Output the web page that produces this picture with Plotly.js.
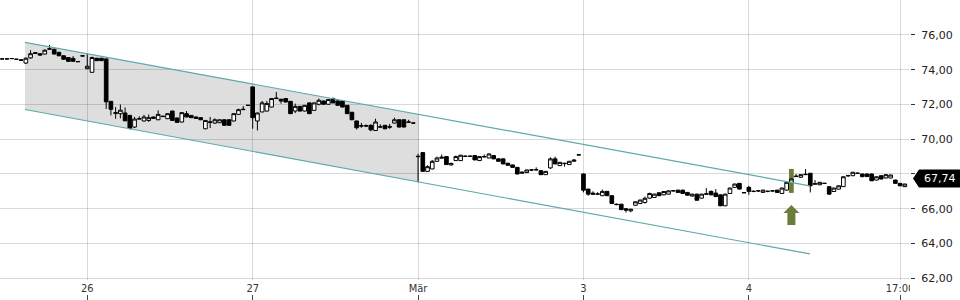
<!DOCTYPE html>
<html>
<head>
<meta charset="utf-8">
<script src="https://cdn.plot.ly/plotly-3.0.1.min.js"></script>
<style>html,body{margin:0;padding:0;background:#fff;}#chart{width:960px;height:300px;}</style>
</head>
<body>
<div id="chart"></div>
<script>
// 15-minute candles, index 0..191
const opens = [
74.62,74.62,74.64,74.60,74.57,74.38,74.68,74.98,74.92,74.90,75.18,75.18,75.00,74.80,74.70,74.65,74.47,74.80,
74.06,73.85,74.66,74.66,74.62,72.18,71.53,71.47,71.51,71.37,70.70,71.16,71.05,71.08,71.28,71.12,71.30,71.18,71.62,71.22,70.99,71.47,71.37,71.28,71.24,70.60,71.00,70.93,70.95,71.12,71.12,71.05,71.43,71.70,71.95,
73.01,71.05,71.57,71.62,71.85,72.34,72.30,72.34,72.18,71.62,71.89,71.62,72.09,71.66,72.01,72.20,72.01,72.34,72.20,72.20,71.95,71.55,71.05,70.78,70.78,70.80,70.50,70.72,70.80,70.72,70.93,71.12,71.12,70.97,70.93,
69.02,69.23,68.15,68.29,68.73,68.97,69.00,68.52,68.77,68.77,69.02,69.02,69.06,68.77,68.98,68.92,69.06,68.87,68.87,68.62,68.52,68.38,68.04,68.08,68.23,68.23,68.19,67.96,68.35,68.87,68.48,68.62,68.54,68.73,69.10,
68.00,67.13,66.90,66.84,66.75,67.00,66.75,66.26,66.26,66.00,65.88,66.20,66.30,66.36,66.61,66.65,66.92,66.80,66.84,67.04,67.07,67.07,66.94,66.73,66.84,66.61,66.86,67.00,66.90,66.80,66.17,66.88,67.23,67.46,66.93,
67.23,67.00,67.03,66.94,67.00,67.03,67.07,66.88,67.07,67.52,67.85,67.81,67.96,68.04,67.44,67.38,67.46,67.27,66.99,67.13,67.27,67.90,67.90,68.04,68.00,68.00,68.00,67.65,67.90,67.77,67.77,67.65,67.46,67.27
];
const highs = [
74.63,74.63,74.65,74.61,74.60,74.70,75.12,75.00,74.94,75.17,75.43,75.20,75.03,74.84,74.72,74.78,74.49,74.82,
74.94,74.75,74.68,74.68,74.64,72.20,71.85,72.00,71.83,71.40,71.28,71.32,71.40,71.42,71.30,71.66,71.34,71.50,71.64,71.24,71.55,71.62,71.39,71.30,71.26,71.10,71.28,71.20,71.14,71.14,71.14,71.49,71.76,71.91,71.97,
73.03,71.53,72.20,72.20,72.36,72.72,72.32,72.36,72.20,72.05,71.91,71.97,72.11,72.11,72.34,72.22,72.30,72.40,72.28,72.22,71.97,71.57,71.07,70.94,70.85,70.86,71.18,70.86,70.82,70.88,71.24,71.14,71.14,71.12,70.95,
69.16,69.25,68.50,68.81,69.00,69.12,69.02,68.66,69.06,69.10,69.06,69.06,69.08,69.02,69.12,69.20,69.08,68.89,68.89,68.64,68.54,68.40,68.14,68.25,68.28,68.38,68.21,68.17,68.96,69.00,68.69,68.64,68.75,68.85,69.12,
68.02,67.15,67.00,66.95,67.10,67.02,66.77,66.30,66.28,66.02,66.00,66.42,66.52,66.70,66.92,66.86,66.94,67.01,67.05,67.06,67.09,67.09,66.96,66.86,66.86,66.86,67.19,67.05,67.13,66.82,66.86,67.21,67.44,67.48,66.94,
67.32,67.05,67.08,67.10,67.05,67.08,67.09,67.21,67.54,67.73,68.00,67.98,68.29,68.06,67.65,67.54,67.48,67.29,67.21,67.34,67.86,67.95,68.12,68.08,68.02,68.02,68.02,67.86,67.92,67.98,67.96,67.67,67.48,67.44
];
const lows = [
74.61,74.61,74.63,74.59,74.52,74.33,74.63,74.93,74.80,74.88,75.16,74.88,74.78,74.58,74.46,74.46,74.45,74.78,
74.04,73.82,74.50,74.50,71.74,71.37,71.18,71.20,71.03,70.56,70.64,71.14,71.02,71.00,71.18,71.10,71.28,71.16,71.06,70.95,70.97,71.26,71.22,71.18,71.10,70.58,70.64,70.88,70.93,70.78,70.78,71.03,71.41,71.68,71.93,
70.60,70.50,71.55,71.60,71.83,72.32,72.05,72.12,71.45,71.50,71.60,71.60,71.45,71.64,71.95,71.99,71.99,72.07,71.93,71.83,71.45,71.10,70.56,70.66,70.70,70.46,70.48,70.68,70.58,70.60,70.91,70.68,70.68,70.95,70.91,
67.52,68.13,68.13,68.27,68.71,68.90,68.52,68.50,68.75,68.75,68.98,68.98,68.79,68.75,68.96,68.90,68.85,68.71,68.56,68.48,68.36,67.98,68.02,68.06,68.18,68.21,67.94,67.94,68.29,68.56,68.46,68.42,68.52,68.71,69.08,
66.94,66.75,66.82,66.82,66.73,66.73,66.28,66.20,65.92,65.78,65.80,66.18,66.28,66.30,66.58,66.63,66.73,66.78,66.82,67.00,66.92,66.86,66.76,66.71,66.47,66.59,66.82,66.78,66.68,66.15,66.15,66.86,67.21,67.11,66.91,
66.80,66.95,66.98,66.92,66.95,66.98,66.92,66.86,67.05,67.50,67.83,67.79,67.94,66.94,67.40,67.36,67.44,66.82,66.97,67.11,67.25,67.85,67.88,68.00,67.80,67.83,67.59,67.63,67.69,67.75,67.75,67.44,67.30,67.25
];
const closes = [
74.62,74.62,74.64,74.60,74.54,74.66,74.92,74.94,74.84,75.12,75.20,74.90,74.80,74.60,74.48,74.48,74.46,74.79,
74.20,74.70,74.52,74.52,72.15,71.72,71.49,71.67,71.06,70.62,71.16,71.18,71.28,71.24,71.20,71.43,71.32,71.47,71.08,70.97,71.53,71.28,71.24,71.20,71.12,71.08,70.97,71.12,71.12,70.80,70.80,71.47,71.70,71.72,71.95,
71.24,71.51,72.09,72.05,72.34,72.36,72.20,72.14,71.47,71.89,71.62,71.95,71.47,72.09,72.24,72.01,72.28,72.09,71.95,71.85,71.47,71.12,70.66,70.76,70.76,70.54,70.99,70.70,70.60,70.70,71.12,70.70,70.70,70.99,70.93,
69.00,68.15,68.42,68.73,68.92,68.92,68.54,68.60,69.00,69.08,69.02,69.02,68.81,69.00,69.00,69.15,68.87,68.73,68.58,68.50,68.38,68.00,68.10,68.23,68.23,68.25,67.96,68.15,68.87,68.58,68.67,68.60,68.73,68.80,69.10,
67.07,66.84,66.84,66.85,67.00,66.75,66.30,66.24,65.95,65.92,65.97,66.40,66.50,66.60,66.88,66.84,66.75,66.99,67.03,67.03,66.94,66.88,66.78,66.84,66.49,66.84,66.84,66.80,66.70,66.17,66.84,67.19,67.42,67.13,66.92,
67.00,67.00,67.03,67.07,67.00,67.03,66.94,67.19,67.52,67.71,67.87,67.96,67.98,67.32,67.42,67.52,67.46,66.84,67.19,67.32,67.84,67.90,68.10,68.04,67.85,67.85,67.61,67.84,67.71,67.96,67.94,67.46,67.32,67.42
];

// axis labels
const tickIdx = [18, 53, 88, 123, 158, 190];
const tickText = ['26', '27', 'Mär', '3', '4', '17:00'];
const yTicks = [62, 64, 66, 68, 70, 72, 74, 76];

// trend channel (index, price)
const chanIdx = [4.82, 170.9];
const chanUpper = [75.57, 67.32];
const chanLower = [71.71, 63.40];
const shadeEndIdx = 88.2;

// signal & last price
const signalIdx = 167;
const signalBar = [66.91, 68.29];
const signalArrowTip = 66.22;
const lastPrice = 67.74;

const xs = opens.map((_, i) => i);
const lerp = (arr, t) => arr[0] + (arr[1] - arr[0]) * (t - chanIdx[0]) / (chanIdx[1] - chanIdx[0]);

const xRange = [-0.47, 192.1];
const yRange = [61.9, 78.01];
const bottomFrac = 20 / 300;
const teal = '#5ea9aa';
const olive = '#6b7d3a';
const grid = 'rgba(0,0,0,0.15)';

const traces = [
  { type: 'scatter', mode: 'lines', x: chanIdx, y: chanUpper, line: { color: teal, width: 1.2 }, hoverinfo: 'skip', showlegend: false },
  { type: 'scatter', mode: 'lines', x: chanIdx, y: chanLower, line: { color: teal, width: 1.2 }, hoverinfo: 'skip', showlegend: false },
  {
    type: 'candlestick', x: xs, open: opens, high: highs, low: lows, close: closes,
    increasing: { line: { color: '#000', width: 1 }, fillcolor: '#fff' },
    decreasing: { line: { color: '#000', width: 1 }, fillcolor: '#000' },
    whiskerwidth: 0, hoverinfo: 'skip', showlegend: false
  },
  { type: 'scatter', mode: 'lines', x: [], y: [], xaxis: 'x2', yaxis: 'y', hoverinfo: 'skip', showlegend: false }
];

const shadePath = 'M ' + chanIdx[0] + ',' + chanUpper[0] +
  ' L ' + shadeEndIdx + ',' + lerp(chanUpper, shadeEndIdx) +
  ' L ' + shadeEndIdx + ',' + lerp(chanLower, shadeEndIdx) +
  ' L ' + chanIdx[0] + ',' + chanLower[0] + ' Z';

const layout = {
  width: 960, height: 300,
  margin: { l: 0, r: 50, t: 0, b: 0 },
  paper_bgcolor: '#fff', plot_bgcolor: '#fff',
  separators: ',.',
  showlegend: false,
  boxgap: 0.12, boxgroupgap: 0.12,
  font: { family: 'DejaVu Sans, sans-serif', size: 11, color: '#222' },
  xaxis: {
    range: xRange, tickmode: 'array', tickvals: tickIdx, ticktext: tickText,
    showgrid: true, gridcolor: grid, gridwidth: 1, zeroline: false, showline: false,
    ticks: '', rangeslider: { visible: false }, fixedrange: true,
    tickfont: { family: 'DejaVu Sans Condensed, Liberation Sans Narrow, DejaVu Sans, sans-serif', size: 11, color: '#333' }
  },
  xaxis2: {
    overlaying: 'x', anchor: 'free', position: 0, range: xRange,
    tickmode: 'array', tickvals: tickIdx, showticklabels: false, ticks: 'inside', ticklen: 5,
    tickcolor: '#444', tickwidth: 1, showgrid: false, zeroline: false, showline: false, fixedrange: true
  },
  yaxis: {
    domain: [bottomFrac, 1], side: 'right', range: yRange,
    tickmode: 'array', tickvals: yTicks, tickformat: '.2f',
    ticks: 'outside', ticklen: 4, tickcolor: '#333', ticklabelstandoff: 4,
    showgrid: true, gridcolor: grid, zeroline: false, showline: false, fixedrange: true,
    tickfont: { family: 'DejaVu Sans, sans-serif', size: 11, color: '#222' }
  },
  shapes: [
    { type: 'path', xref: 'x', yref: 'y', path: shadePath, fillcolor: '#dedede', line: { width: 0 }, layer: 'below' },
    { type: 'rect', xref: 'x', yref: 'y', x0: signalIdx - 0.5, x1: signalIdx + 0.5, y0: signalBar[0], y1: signalBar[1],
      fillcolor: olive, line: { width: 0 }, layer: 'between' },
    { type: 'path', xref: 'x', yref: 'y', xsizemode: 'pixel', ysizemode: 'pixel', xanchor: signalIdx, yanchor: signalArrowTip,
      path: 'M 0,0 L 8,-8 L 4,-8 L 4,-20 L -4,-20 L -4,-8 L -8,-8 Z', fillcolor: olive, line: { width: 0 }, layer: 'above' },
    { type: 'path', xref: 'paper', yref: 'y', xsizemode: 'pixel', ysizemode: 'pixel', xanchor: 1, yanchor: lastPrice,
      path: 'M 3,0 L 9,9 L 50,9 L 50,-9 L 9,-9 Z', fillcolor: '#000', line: { width: 0 }, layer: 'above' },
    { type: 'rect', xref: 'paper', yref: 'paper', x0: 1, x1: 1.1, y0: -0.05, y1: 17 / 300,
      fillcolor: '#fff', line: { width: 0 }, layer: 'above' }
  ],
  annotations: [
    { xref: 'paper', yref: 'y', x: 1, y: lastPrice, xshift: 30, xanchor: 'center', yanchor: 'middle',
      text: '67,74', showarrow: false, font: { family: 'DejaVu Sans, sans-serif', size: 11, color: '#fff' } }
  ]
};

Plotly.newPlot('chart', traces, layout, { displayModeBar: false, staticPlot: true });
</script>
</body>
</html>
